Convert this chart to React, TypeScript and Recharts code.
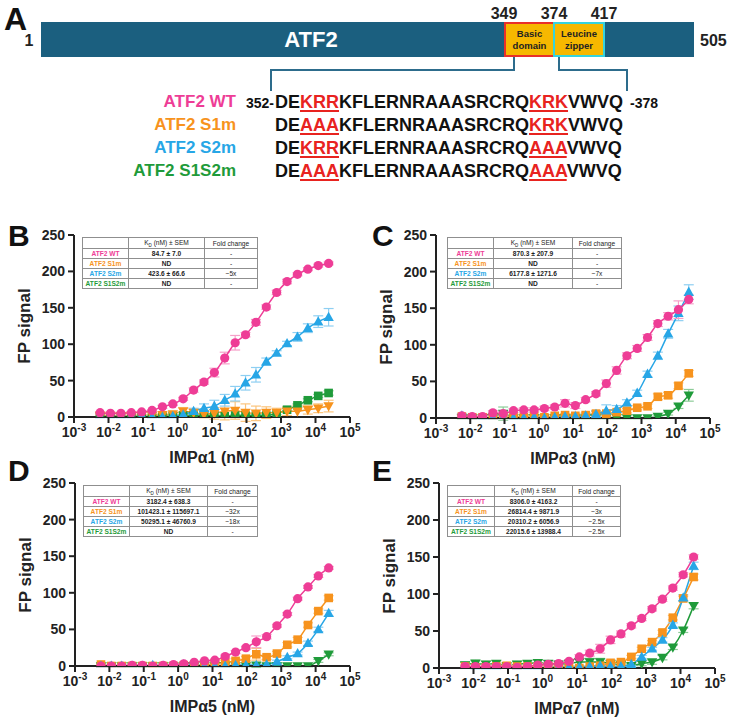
import React from "react";
import { ComposedChart, Line, XAxis, YAxis, ErrorBar } from "recharts";

const FONT = '"Liberation Sans", Arial, Helvetica, sans-serif';

const PINK = "#ee3d96";
const ORANGE = "#f7931d";
const BLUE = "#27a6e6";
const GREEN = "#1f9b3a";
const PINK_ERR = "#f6a0c9";
const ORANGE_ERR = "#fbc47c";
const BLUE_ERR = "#8ecff2";
const GREEN_ERR = "#8ccb97";

// IMPα concentrations (nM)
const conc = [
	0.0057, 0.0114, 0.0229, 0.0458, 0.0916, 0.183, 0.366, 0.732, 1.46, 2.93, 5.86, 11.7,
	23.4, 46.9, 93.8, 188, 375, 750, 1500, 3000, 6000, 12000, 24000,
];
const logTicks = [0.001, 0.01, 0.1, 1, 10, 100, 1000, 10000, 100000];
const fpTicks = [0, 50, 100, 150, 200, 250];

const variants = ["ATF2 WT", "ATF2 S1m", "ATF2 S2m", "ATF2 S1S2m"];
const variantColors = [PINK, ORANGE, BLUE, GREEN];

// B: IMPα1
const a1Wt = [6, 5, 5, 6, 7, 9, 14, 18, 25, 37, 48, 61, 81, 102, 113, 130, 151, 171, 186, 196, 203, 208, 211];
const a1WtErr = [1, 1, 1, 1, 1, 1, 2, 2, 2, 3, 3, 6, 8, 10, 3, 4, 3, 3, 3, 2, 2, 2, 2];
const a1S1 = [2, 2, 1, 2, 2, 2, 3, 4, 8, 6, 4, 5, 8, 9, 6, 5, 6, 6, 8, 8, 10, 12, 15];
const a1S1Err = [1, 1, 1, 1, 1, 1, 2, 2, 5, 5, 5, 8, 12, 12, 12, 10, 8, 6, 6, 8, 6, 6, 8];
const a1S2 = [0, 0, 0, 0, 1, 0, 0, 1, 3, 8, 12, 15, 23, 32, 47, 58, 76, 88, 101, 110, 122, 131, 137];
const a1S2Err = [1, 1, 1, 1, 1, 1, 1, 2, 3, 4, 6, 8, 8, 10, 10, 10, 5, 3, 3, 6, 6, 8, 12];
const a1S12 = [1, 1, 1, 1, 1, 1, 1, 2, 2, 2, 2, 2, 1, 2, 2, 2, 2, 5, 10, 16, 23, 29, 33];
const a1S12Err = [1, 1, 1, 1, 1, 1, 1, 1, 1, 1, 1, 1, 1, 1, 1, 1, 1, 2, 2, 2, 2, 2, 3];
const a1Kd = ["84.7 ± 7.0", "ND", "423.6 ± 66.6", "ND"];
const a1Fold = ["-", "-", "~5x", "-"];

// C: IMPα3
const a3Wt = [3, 2, 2, 7, 6, 10, 11, 11, 13, 15, 20, 17, 25, 33, 47, 65, 85, 95, 110, 129, 139, 148, 162];
const a3WtErr = [2, 2, 2, 3, 3, 3, 3, 3, 3, 3, 5, 4, 3, 3, 5, 5, 4, 4, 4, 4, 5, 12, 6];
const a3S1 = [2, 1, 1, 0, 1, 2, 1, 3, 1, 3, 4, 3, 4, 6, 6, 8, 10, 14, 16, 29, 31, 44, 61];
const a3S1Err = [2, 2, 1, 1, 1, 1, 1, 2, 2, 2, 2, 3, 3, 3, 3, 3, 3, 3, 3, 4, 4, 4, 4];
const a3S2 = [3, 1, 0, 0, 1, 0, 0, 1, 0, 1, 2, 2, 3, 5, 10, 12, 21, 34, 60, 85, 115, 143, 172];
const a3S2Err = [3, 2, 1, 1, 1, 1, 1, 1, 1, 1, 1, 2, 3, 5, 8, 5, 4, 4, 4, 5, 6, 10, 10];
const a3S12 = [0, 0, 0, 1, 6, 0, 0, 0, 0, 0, 0, 0, 0, 0, 0, 0, 0, 0, 0, 2, 6, 16, 31];
const a3S12Err = [1, 1, 1, 2, 9, 1, 1, 1, 1, 1, 1, 1, 1, 1, 1, 1, 1, 1, 1, 2, 2, 3, 8];
const a3Kd = ["870.3 ± 207.9", "ND", "6177.8 ± 1271.6", "ND"];
const a3Fold = ["-", "-", "~7x", "-"];

// D: IMPα5
const a5Wt = [0, 0, 0, 1, 1, 0, 1, 2, 3, 5, 7, 8, 13, 19, 25, 33, 40, 55, 71, 92, 108, 123, 134];
const a5WtErr = [1, 1, 1, 1, 1, 1, 1, 1, 1, 1, 1, 1, 2, 2, 2, 8, 3, 2, 2, 2, 2, 2, 2];
const a5S1 = [2, 0, 0, 0, 0, 0, 0, 0, 1, 1, 1, 4, 5, 7, 10, 16, 12, 17, 29, 36, 56, 75, 93];
const a5S1Err = [1, 1, 1, 1, 1, 1, 1, 1, 1, 1, 1, 2, 3, 3, 3, 8, 3, 3, 3, 3, 3, 3, 3];
const a5S2 = [0, 0, 0, 0, 0, 1, 0, 0, 2, 1, 0, 0, 0, 1, 1, 1, 2, 6, 12, 17, 31, 50, 72];
const a5S2Err = [1, 1, 1, 1, 1, 1, 1, 1, 1, 1, 1, 1, 1, 1, 1, 1, 1, 2, 2, 2, 3, 3, 4];
const a5S12 = [0, 0, 0, 0, 0, 0, 0, 0, 0, 0, 0, 0, 0, 0, 0, 1, 0, 0, 0, 0, 0, 7, 16];
const a5S12Err = [1, 1, 1, 1, 1, 1, 1, 1, 1, 1, 1, 1, 1, 1, 1, 3, 1, 1, 1, 1, 1, 2, 2];
const a5Kd = ["3182.4 ± 638.3", "101423.1 ± 115697.1", "50295.1 ± 46760.9", "ND"];
const a5Fold = ["-", "~32x", "~18x", "-"];

// E: IMPα7
const a7Wt = [2, 2, 2, 2, 2, 1, 2, 4, 5, 6, 9, 15, 20, 26, 38, 46, 57, 67, 80, 93, 108, 126, 150];
const a7WtErr = [2, 2, 2, 2, 2, 2, 2, 2, 2, 2, 2, 3, 4, 6, 5, 4, 3, 3, 3, 3, 3, 3, 3];
const a7S1 = [2, 1, 1, 2, 3, 2, 2, 2, 2, 2, 2, 0, 2, 3, 7, 8, 15, 26, 35, 48, 68, 94, 123];
const a7S1Err = [1, 1, 1, 1, 1, 1, 1, 1, 1, 1, 1, 1, 1, 2, 2, 2, 2, 2, 2, 3, 3, 3, 4];
const a7S2 = [1, 0, 0, 0, 1, 0, 0, 0, 1, 1, 1, 1, 2, 3, 2, 2, 5, 15, 26, 38, 58, 95, 138];
const a7S2Err = [1, 1, 1, 1, 1, 1, 1, 1, 1, 1, 1, 1, 1, 1, 1, 1, 2, 2, 2, 3, 3, 4, 5];
const a7S12 = [4, 6, 5, 6, 3, 5, 6, 7, 6, 5, 6, 8, 8, 8, 6, 4, 3, 6, 8, 14, 28, 51, 84];
const a7S12Err = [4, 5, 4, 4, 3, 4, 4, 4, 4, 4, 4, 5, 5, 5, 4, 3, 3, 3, 3, 3, 3, 3, 4];
const a7Kd = ["8306.0 ± 4163.2", "26814.4 ± 9871.9", "20310.2 ± 6056.9", "22015.6 ± 13988.4"];
const a7Fold = ["-", "~3x", "~2.5x", "~2.5x"];

// marker shapes per panel: WT, S1m, S2m, S1S2m
const shapesB = ["circle", "down", "up", "square"];
const shapesOther = ["circle", "square", "up", "down"];

// peptide 352-378
const site1 = ["KRR", "AAA", "KRR", "AAA"];
const site2 = ["KRK", "KRK", "AAA", "AAA"];

function buildRows(wt: number[], wtE: number[], s1: number[], s1E: number[], s2: number[], s2E: number[], s12: number[], s12E: number[]) {
	return conc.map((c, i) => ({
		conc: c,
		wt: wt[i], wtE: wtE[i],
		s1: s1[i], s1E: s1E[i],
		s2: s2[i], s2E: s2E[i],
		s12: s12[i], s12E: s12E[i],
	}));
}

const marker = (shape: string, color: string) => (p: any) => {
	const { cx, cy, index } = p;
	const k = `${shape}-${index}`;
	if (cx == null || cy == null) return <g key={k} />;
	if (shape === "circle") return <circle key={k} cx={cx} cy={cy} r={4.6} fill={color} />;
	if (shape === "square") return <rect key={k} x={cx - 4.3} y={cy - 4.3} width={8.6} height={8.6} fill={color} />;
	if (shape === "up")
		return <path key={k} d={`M${cx},${cy - 5.5}L${cx + 5.2},${cy + 3.8}L${cx - 5.2},${cy + 3.8}Z`} fill={color} />;
	return <path key={k} d={`M${cx},${cy + 5.5}L${cx + 5.2},${cy - 3.8}L${cx - 5.2},${cy - 3.8}Z`} fill={color} />;
};

const LogTick = (props: any) => {
	const { x, y, payload } = props;
	const exp = Math.round(Math.log10(payload.value));
	return (
		<text x={x} y={y + 12} textAnchor="middle" fontFamily={FONT} fontWeight={700} fontSize={14} fill="#222">
			<tspan>10</tspan>
			<tspan dy={-6} fontSize={10}>{exp}</tspan>
		</text>
	);
};

function KdTable({ left, top, widths, kd, fold }: { left: number; top: number; widths: number[]; kd: string[]; fold: string[] }) {
	const cell: React.CSSProperties = {
		border: "0.8px solid #8f8f8f",
		height: 9,
		padding: 0,
		textAlign: "center",
		lineHeight: "9px",
		whiteSpace: "nowrap",
		overflow: "hidden",
		fontWeight: 700,
		color: "#222",
	};
	return (
		<table
			style={{
				position: "absolute", left, top, borderCollapse: "collapse", tableLayout: "fixed",
				fontFamily: FONT, fontSize: 6.6, background: "#fff", width: widths.reduce((a, b) => a + b, 0),
			}}
		>
			<colgroup>
				{widths.map((w, i) => <col key={i} style={{ width: w }} />)}
			</colgroup>
			<tbody>
				<tr>
					<td style={cell}></td>
					<td style={{ ...cell, fontWeight: 400 }}>
						K<span style={{ fontSize: 4.5, position: "relative", top: 1.5 }}>D</span> (nM) ± SEM
					</td>
					<td style={{ ...cell, fontWeight: 400 }}>Fold change</td>
				</tr>
				{variants.map((v, i) => (
					<tr key={v}>
						<td style={{ ...cell, color: variantColors[i] }}>{v}</td>
						<td style={cell}>{kd[i]}</td>
						<td style={{ ...cell, fontWeight: 400 }}>{fold[i]}</td>
					</tr>
				))}
			</tbody>
		</table>
	);
}

function Panel({ left, top, plotW, plotH, label, xTitle, data, shapes, table }: any) {
	const width = 74 + plotW + 15;
	const height = 10 + plotH + 48;
	return (
		<div style={{ position: "absolute", left, top, width, height }}>
			<ComposedChart width={width} height={height} data={data} margin={{ top: 10, right: 15, left: 24, bottom: 18 }}>
				<XAxis
					dataKey="conc"
					type="number"
					scale="log"
					domain={[0.001, 100000]}
					ticks={logTicks}
					interval={0}
					allowDataOverflow
					height={30}
					tickSize={6}
					tick={<LogTick />}
					axisLine={{ stroke: "#222", strokeWidth: 2 }}
					tickLine={{ stroke: "#222", strokeWidth: 2 }}
				/>
				<YAxis
					type="number"
					domain={[0, 250]}
					ticks={fpTicks}
					interval={0}
					allowDataOverflow
					width={50}
					tickSize={6}
					tickMargin={3}
					tick={{ fill: "#222", fontSize: 14, fontWeight: 700, fontFamily: FONT }}
					axisLine={{ stroke: "#222", strokeWidth: 2 }}
					tickLine={{ stroke: "#222", strokeWidth: 2 }}
				/>
				<Line dataKey="s12" type="monotone" stroke={GREEN} strokeWidth={1.5} dot={marker(shapes[3], GREEN)} activeDot={false} isAnimationActive={false}>
					<ErrorBar dataKey="s12E" direction="y" width={5} stroke={GREEN_ERR} strokeWidth={1.2} />
				</Line>
				<Line dataKey="s1" type="monotone" stroke={ORANGE} strokeWidth={1.5} dot={marker(shapes[1], ORANGE)} activeDot={false} isAnimationActive={false}>
					<ErrorBar dataKey="s1E" direction="y" width={5} stroke={ORANGE_ERR} strokeWidth={1.2} />
				</Line>
				<Line dataKey="s2" type="monotone" stroke={BLUE} strokeWidth={1.5} dot={marker(shapes[2], BLUE)} activeDot={false} isAnimationActive={false}>
					<ErrorBar dataKey="s2E" direction="y" width={5} stroke={BLUE_ERR} strokeWidth={1.2} />
				</Line>
				<Line dataKey="wt" type="monotone" stroke={PINK} strokeWidth={1.5} dot={marker(shapes[0], PINK)} activeDot={false} isAnimationActive={false}>
					<ErrorBar dataKey="wtE" direction="y" width={5} stroke={PINK_ERR} strokeWidth={1.2} />
				</Line>
			</ComposedChart>
			<div
				style={{
					position: "absolute", left: 25 - 60, top: 10 + plotH / 2 - 10, width: 120, height: 20,
					transform: "rotate(-90deg)", textAlign: "center", fontFamily: FONT, fontWeight: 700, fontSize: 17, lineHeight: "20px", color: "#222",
				}}
			>
				FP signal
			</div>
			<div
				style={{
					position: "absolute", left: 74, top: 10 + plotH + 32, width: plotW, textAlign: "center",
					fontFamily: FONT, fontWeight: 700, fontSize: 16, lineHeight: "18px", color: "#222",
				}}
			>
				{xTitle}
			</div>
			<div style={{ position: "absolute", left: label.x, top: label.y, fontFamily: FONT, fontWeight: 700, fontSize: 30, lineHeight: 1, color: "#111" }}>
				{label.text}
			</div>
			{table}
		</div>
	);
}

function Sequence({ idx }: { idx: number }) {
	const red: React.CSSProperties = { color: "#e8231f", textDecoration: "underline", textDecorationThickness: 2, textUnderlineOffset: 2 };
	return (
		<span>
			DE<span style={red}>{site1[idx]}</span>KFLERNRAAASRCRQ<span style={red}>{site2[idx]}</span>VWVQ
		</span>
	);
}

function PanelA() {
	const rowTop = [92, 115, 138, 161];
	return (
		<div style={{ position: "absolute", left: 0, top: 0, width: 730, height: 200, fontFamily: FONT }}>
			<div style={{ position: "absolute", left: 4, top: 3, fontSize: 32, fontWeight: 700, lineHeight: 1, color: "#111" }}>A</div>
			<svg width={730} height={100} style={{ position: "absolute", left: 0, top: 0 }}>
				<rect x={41} y={22} width={653} height={35} fill="#1b5f7f" />
				<rect x={505} y={23} width={49} height={33} fill="#f6b800" stroke="#e8302a" strokeWidth={2} />
				<rect x={554} y={23} width={50} height={33} fill="#f6b800" stroke="#35d3de" strokeWidth={2} />
				<text x={311} y={47} textAnchor="middle" fontFamily={FONT} fontWeight={700} fontSize={22} fill="#fff">ATF2</text>
				<text x={529.5} y={37} textAnchor="middle" fontFamily={FONT} fontWeight={700} fontSize={9.5} fill="#222">Basic</text>
				<text x={529.5} y={49} textAnchor="middle" fontFamily={FONT} fontWeight={700} fontSize={9.5} fill="#222">domain</text>
				<text x={579} y={37} textAnchor="middle" fontFamily={FONT} fontWeight={700} fontSize={9.5} fill="#222">Leucine</text>
				<text x={579} y={49} textAnchor="middle" fontFamily={FONT} fontWeight={700} fontSize={9.5} fill="#222">zipper</text>
				<text x={29} y={46} textAnchor="middle" fontFamily={FONT} fontWeight={700} fontSize={16} fill="#222">1</text>
				<text x={700} y={46} fontFamily={FONT} fontWeight={700} fontSize={16} fill="#222">505</text>
				<text x={504} y={19} textAnchor="middle" fontFamily={FONT} fontWeight={700} fontSize={16} fill="#222">349</text>
				<text x={554} y={19} textAnchor="middle" fontFamily={FONT} fontWeight={700} fontSize={16} fill="#222">374</text>
				<text x={604} y={19} textAnchor="middle" fontFamily={FONT} fontWeight={700} fontSize={16} fill="#222">417</text>
				<polyline points="514,57 514,70 271,70 271,91" fill="none" stroke="#2d6c8c" strokeWidth={2} />
				<polyline points="559,57 559,70 627,70 627,91" fill="none" stroke="#2d6c8c" strokeWidth={2} />
			</svg>
			{variants.map((v, i) => (
				<React.Fragment key={v}>
					<div style={{ position: "absolute", left: 100, width: 136, top: rowTop[i], textAlign: "right", fontSize: 17, fontWeight: 700, lineHeight: "20px", color: variantColors[i] }}>
						{v}
					</div>
					<div style={{ position: "absolute", left: 275, top: rowTop[i], fontSize: 18, fontWeight: 700, lineHeight: "20px", color: "#111", whiteSpace: "nowrap" }}>
						<Sequence idx={i} />
					</div>
				</React.Fragment>
			))}
			<div style={{ position: "absolute", left: 238, top: rowTop[0] + 2, width: 36, textAlign: "right", fontSize: 14, fontWeight: 700, lineHeight: "18px", color: "#111" }}>352-</div>
			<div style={{ position: "absolute", left: 630, top: rowTop[0] + 2, fontSize: 14, fontWeight: 700, lineHeight: "18px", color: "#111" }}>-378</div>
		</div>
	);
}

export default function App() {
	const dataB = buildRows(a1Wt, a1WtErr, a1S1, a1S1Err, a1S2, a1S2Err, a1S12, a1S12Err);
	const dataC = buildRows(a3Wt, a3WtErr, a3S1, a3S1Err, a3S2, a3S2Err, a3S12, a3S12Err);
	const dataD = buildRows(a5Wt, a5WtErr, a5S1, a5S1Err, a5S2, a5S2Err, a5S12, a5S12Err);
	const dataE = buildRows(a7Wt, a7WtErr, a7S1, a7S1Err, a7S2, a7S2Err, a7S12, a7S12Err);
	return (
		<div style={{ position: "absolute", left: 0, top: 0, width: 730, height: 719, background: "#fff", overflow: "hidden" }}>
			<PanelA />
			<Panel left={0} top={225} plotW={276} plotH={182} label={{ text: "B", x: 8, y: -4 }} xTitle="IMPα1 (nM)" data={dataB} shapes={shapesB}
				table={<KdTable left={82} top={12} widths={[46, 76, 53]} kd={a1Kd} fold={a1Fold} />} />
			<Panel left={362} top={225} plotW={274} plotH={183} label={{ text: "C", x: 10, y: -4 }} xTitle="IMPα3 (nM)" data={dataC} shapes={shapesOther}
				table={<KdTable left={85} top={12} widths={[46, 79, 49]} kd={a3Kd} fold={a3Fold} />} />
			<Panel left={1} top={473} plotW={275} plotH={183} label={{ text: "D", x: 7, y: -17 }} xTitle="IMPα5 (nM)" data={dataD} shapes={shapesOther}
				table={<KdTable left={82} top={12} widths={[46, 78, 50]} kd={a5Kd} fold={a5Fold} />} />
			<Panel left={365} top={473} plotW={276} plotH={185} label={{ text: "E", x: 7, y: -17 }} xTitle="IMPα7 (nM)" data={dataE} shapes={shapesOther}
				table={<KdTable left={82} top={12} widths={[47, 78, 48]} kd={a7Kd} fold={a7Fold} />} />
		</div>
	);
}
